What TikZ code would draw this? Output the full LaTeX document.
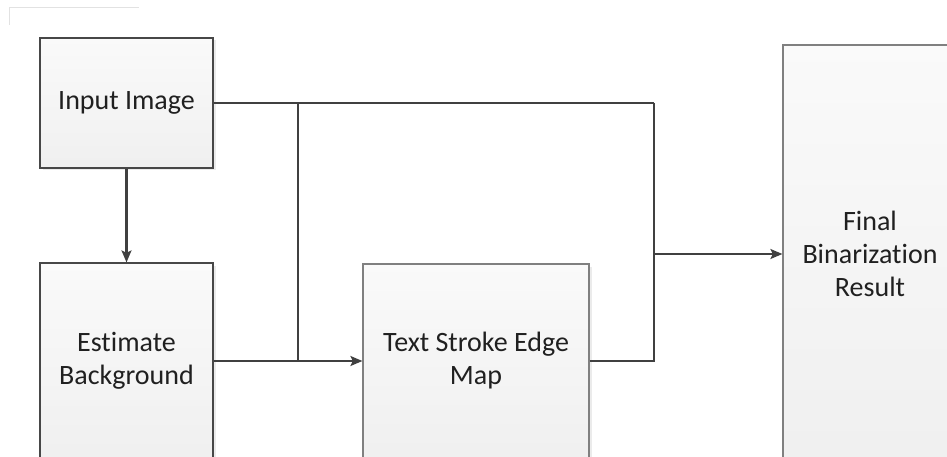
\documentclass[tikz,border=0pt]{standalone}
\usepackage{fontspec}
\setmainfont[Ligatures=NoCommon]{Carlito}
\usetikzlibrary{arrows.meta,shadows}
\definecolor{linegray}{HTML}{404040}
\definecolor{txtgray}{HTML}{202020}
\definecolor{faint}{HTML}{E2E2E2}
\tikzset{
  block/.style={rectangle, draw=#1, line width=1.2pt, top color=white!98!black,
    bottom color=black!6, text=txtgray, align=center,
    font=\fontsize{28}{33}\selectfont, inner sep=0pt,
    drop shadow={shadow xshift=2.5pt, shadow yshift=-2.5pt, fill=black!8, opacity=1}},
  block/.default={black!72},
  wire/.style={draw=linegray, line width=2.1pt},
  arr/.style={wire, -{Stealth[length=12pt,width=10pt,inset=2.5pt]}}
}
\begin{document}
\begin{tikzpicture}[x=1pt,y=-1pt]
  \useasboundingbox (0,0) rectangle (947,457);
  \clip (0,0) rectangle (947,457);
  % faint corner mark at the top left
  \draw[faint, line width=0.8pt] (9,25) -- (9,7) -- (139,7);
  % process blocks
  \node[block, minimum width=173pt, minimum height=130pt] (in) at (126.5,103) {\raisebox{-4pt}{Input Image}};
  \node[block, minimum width=173pt, minimum height=196pt] (est) at (126.5,361) {Estimate\\Background};
  \node[block=black!50, minimum width=226pt, minimum height=194pt] (tse) at (476,361) {Text Stroke Edge\\Map};
  \node[block=black!50, minimum width=174pt, minimum height=418pt] (fin) at (870,254) {Final\\Binarization\\Result};
  % junction points
  \coordinate (ja) at (298,103);
  \coordinate (jr) at (654,103);
  % connectors
  \draw[arr] (in.south) -- (est.north);
  \draw[wire] (in.east) -- (jr);
  \draw[wire] (ja) -- (ja |- est.east);
  \draw[arr] (est.east) -- (tse.west);
  \draw[arr] (jr) |- (fin.west);
  \draw[wire] (tse.east) -| (jr |- fin.west);
\end{tikzpicture}
\end{document}
